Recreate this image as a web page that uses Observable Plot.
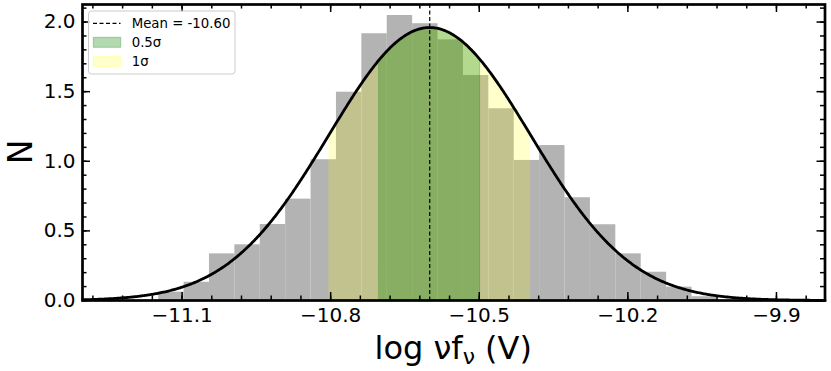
<!DOCTYPE html>
<html><head><meta charset="utf-8">
<script src="https://cdn.jsdelivr.net/npm/d3@7"></script>
<script src="https://cdn.jsdelivr.net/npm/@observablehq/plot@0.6"></script>
<style>html,body{margin:0;padding:0;background:#fff}#chart svg{display:block}</style>
</head><body><div id="chart"></div>
<script>
// ---- data ----
const binStart = -11.1472;
const binWidth = 0.05127;
const density = [0.06, 0.131, 0.335, 0.400, 0.546, 0.728, 1.011, 1.496, 1.916, 2.047, 1.988,
                 1.872, 1.616, 1.377, 1.006, 1.113, 0.738, 0.544, 0.335, 0.203, 0.096, 0.027];
const mean = -10.60;
const sigma = 0.2035;
const xMajorTicks = [-11.1, -10.8, -10.5, -10.2, -9.9];
const yMajorTicks = [0, 0.5, 1.0, 1.5, 2.0];
const legendLabels = ["Mean = -10.60", "0.5σ", "1σ"];
const xDomain = [-11.301, -9.802];
const yDomain = [0, 2.126];

// ---- layout ----
const W = 831, H = 371, mL = 82, mR = 6.5, mT = 4, mB = 71;
const FONT = "DejaVu Sans";
const pxY = (yDomain[1] - yDomain[0]) / (H - mT - mB);
const pxX = (xDomain[1] - xDomain[0]) / (W - mL - mR);

const bars = density.map((v, i) => ({x1: binStart + i * binWidth, x2: binStart + (i + 1) * binWidth, y: v}));
const pdf = x => Math.exp(-0.5 * ((x - mean) / sigma) ** 2) / (sigma * Math.sqrt(2 * Math.PI));
const N = 700;
const grid = d3.range(N + 1).map(i => xDomain[0] + i * (xDomain[1] - xDomain[0]) / N);
const curve = grid.map(x => ({x, y: pdf(x)}));
const band = (lo, hi) => [lo, ...grid.filter(x => x > lo && x < hi), hi].map(x => ({x, y: pdf(x)}));

const xMinor = d3.range(-3, 22).map(k => xMajorTicks[0] + k * 0.06).filter(v => v > xDomain[0] && v < xDomain[1]);
const yMinor = d3.range(0, 22).map(k => k * 0.1).filter(v => v < yDomain[1]);

const majL = 8, minL = 4.5;
const tickStyle = {stroke: "black", strokeWidth: 1.5};
const fmt = d => d.toFixed(1).replace("-", "\u2212");

function legendMark(index, scales, values, dims) {
  const x0 = mL;
  const g = d3.create("svg:g").attr("font-family", FONT).attr("font-size", 13.3).attr("text-anchor", "start");
  g.append("rect").attr("x", x0 + 6.5).attr("y", 11).attr("width", 146.5).attr("height", 63).attr("rx", 3)
    .attr("fill", "white").attr("fill-opacity", 0.8).attr("stroke", "#cccccc").attr("stroke-width", 1);
  g.append("line").attr("x1", x0 + 11).attr("x2", x0 + 38.5).attr("y1", 23.3).attr("y2", 23.3)
    .attr("stroke", "black").attr("stroke-width", 1.2).attr("stroke-dasharray", "4,2.5");
  g.append("rect").attr("x", x0 + 11.3).attr("y", 37.3).attr("width", 27.4).attr("height", 10)
    .attr("fill", "green").attr("fill-opacity", 0.3).attr("stroke", "green").attr("stroke-opacity", 0.3);
  g.append("rect").attr("x", x0 + 11.3).attr("y", 56.5).attr("width", 27.4).attr("height", 10)
    .attr("fill", "yellow").attr("fill-opacity", 0.2).attr("stroke", "yellow").attr("stroke-opacity", 0.2);
  const ys = [27.5, 47.1, 66.4];
  legendLabels.forEach((t, i) => g.append("text").attr("x", x0 + 49.7).attr("y", ys[i])
    .attr("text-anchor", "start").attr("fill", "black").text(t));
  return g.node();
}

function axisLabels(index, scales, values, dims) {
  const g = d3.create("svg:g").attr("font-family", FONT).attr("fill", "black");
  const cx = mL + (W - mL - mR) / 2;
  const t = g.append("text").attr("x", cx).attr("y", 359).attr("text-anchor", "middle").attr("font-size", 32);
  t.append("tspan").text("log \u03bdf");
  t.append("tspan").attr("font-size", 22).attr("dy", 5).text("\u03bd");
  t.append("tspan").attr("font-size", 32).attr("dy", -5).text(" (V)");
  const cy = mT + (H - mT - mB) / 2;
  g.append("text").attr("transform", `translate(32,${cy}) rotate(-90)`).attr("text-anchor", "middle")
    .attr("font-size", 33).text("N");
  return g.node();
}

const chart = Plot.plot({
  width: W, height: H,
  marginLeft: mL, marginRight: mR, marginTop: mT, marginBottom: mB,
  x: {domain: xDomain},
  y: {domain: yDomain},
  style: {fontFamily: FONT, background: "white", color: "black", overflow: "visible"},
  marks: [
    Plot.rect(bars, {x1: "x1", x2: "x2", y1: 0, y2: "y", fill: "#b3b3b3"}),
    Plot.areaY(band(mean - sigma, mean + sigma), {x: "x", y: "y", fill: "yellow", fillOpacity: 0.2}),
    Plot.areaY(band(mean - 0.5 * sigma, mean + 0.5 * sigma), {x: "x", y: "y", fill: "green", fillOpacity: 0.3, stroke: "green", strokeOpacity: 0.3, strokeWidth: 1}),
    Plot.ruleX([mean], {stroke: "black", strokeWidth: 1.2, strokeDasharray: "4,2.5"}),
    Plot.line(curve, {x: "x", y: "y", stroke: "black", strokeWidth: 2.8}),
    // inward ticks on all four sides
    Plot.ruleX(xMajorTicks, {y1: yDomain[0], y2: yDomain[0] + majL * pxY, ...tickStyle}),
    Plot.ruleX(xMajorTicks, {y1: yDomain[1] - majL * pxY, y2: yDomain[1], ...tickStyle}),
    Plot.ruleX(xMinor, {y1: yDomain[0], y2: yDomain[0] + minL * pxY, ...tickStyle}),
    Plot.ruleX(xMinor, {y1: yDomain[1] - minL * pxY, y2: yDomain[1], ...tickStyle}),
    Plot.ruleY(yMajorTicks, {x1: xDomain[0], x2: xDomain[0] + majL * pxX, ...tickStyle}),
    Plot.ruleY(yMajorTicks, {x1: xDomain[1] - majL * pxX, x2: xDomain[1], ...tickStyle}),
    Plot.ruleY(yMinor, {x1: xDomain[0], x2: xDomain[0] + minL * pxX, ...tickStyle}),
    Plot.ruleY(yMinor, {x1: xDomain[1] - minL * pxX, x2: xDomain[1], ...tickStyle}),
    Plot.axisX({ticks: xMajorTicks, tickSize: 0, tickPadding: 7.5, fontSize: 20, tickFormat: fmt, label: null}),
    Plot.axisY({ticks: yMajorTicks, tickSize: 0, tickPadding: 7, fontSize: 20, tickFormat: fmt, label: null}),
    Plot.frame({stroke: "black", strokeWidth: 2.7}),
    legendMark,
    axisLabels
  ]
});
document.getElementById("chart").appendChild(chart);
</script>
</body></html>
